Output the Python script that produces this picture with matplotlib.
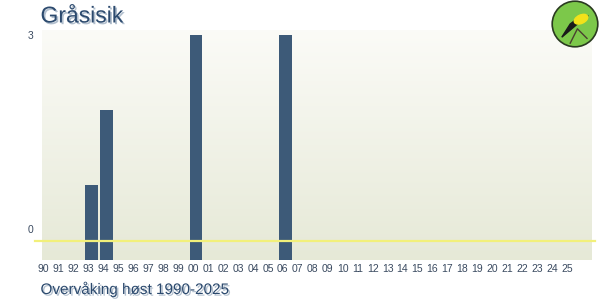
import numpy as np
import matplotlib.pyplot as plt
import matplotlib.patheffects as pe
from matplotlib.patches import Circle, Ellipse, Polygon

# years 1990-2025, counts per autumn season
years = [f"{y % 100:02d}" for y in range(1990, 2026)]
counts = [0, 0, 0, 1, 2, 0, 0, 0, 0, 0,
          3, 0, 0, 0, 0, 0, 3, 0, 0, 0,
          0, 0, 0, 0, 0, 0, 0, 0, 0, 0,
          0, 0, 0, 0, 0, 0]
title = "Gråsisik"
footer = "Overvåking høst 1990-2025"

BAR = "#3d5a78"
TXT = "#2c4a6e"
FONT = ["Liberation Sans", "DejaVu Sans"]

fig = plt.figure(figsize=(6, 3), dpi=100)
fig.patch.set_facecolor("white")
ax = fig.add_axes([42 / 600, 40 / 300, 549 / 600, 230 / 300])

x = np.arange(len(years))
xlim = (-0.30, 36.4)
ylim = (0, 3.067)

# vertical gradient background
grad = np.linspace(0, 1, 100).reshape(-1, 1)
top = np.array([0.984, 0.984, 0.969])
bot = np.array([0.902, 0.914, 0.843])
img = top + (bot - top) * grad[:, :, None]
ax.imshow(img, extent=[xlim[0], xlim[1], ylim[0], ylim[1]],
          aspect="auto", origin="upper", zorder=0)

ax.bar(x, counts, width=0.85, color=BAR, zorder=2)

ax.set_xlim(*xlim)
ax.set_ylim(*ylim)
for s in ax.spines.values():
    s.set_visible(False)
ax.tick_params(length=0)

ax.set_xticks(x - 0.2)
ax.set_xticklabels(years, fontsize=7.5, color="#3a4a60", family=FONT)
ax.tick_params(axis="x", pad=3)
ax.set_yticks([0.41, 3.0])
ax.set_yticklabels(["0", "3"], fontsize=7.5, color="#3a4a60", family=FONT)
ax.tick_params(axis="y", pad=6)

# yellow baseline that runs a little past the plot area
ax.plot([-0.8, 36.65], [0.253, 0.253], color="#f2f07a", lw=1.6,
        clip_on=False, zorder=3)

# title and footer with a light shadow
shadow = [pe.withSimplePatchShadow(offset=(1.2, -1.2), shadow_rgbFace="#9fb0c2",
                                   alpha=0.8)]
for txt, y, size in [(title, 0.925, 16.5), (footer, 0.02, 11)]:
    fig.text(40.5 / 600, y, txt, fontsize=size, color=TXT,
             family=FONT, va="baseline", path_effects=shadow)

# logo
lax = fig.add_axes([551 / 600, 252 / 300, 48 / 600, 48 / 300])
lax.set_xlim(-1, 1)
lax.set_ylim(-1, 1)
lax.set_aspect("equal")
lax.axis("off")
lax.add_patch(Circle((0, 0), 0.95, facecolor="#7cc84a", edgecolor="#2a3a20", lw=1.2))
lax.add_patch(Polygon([[-0.55, -0.55], [0.1, 0.0], [0.55, 0.35], [0.2, 0.3],
                       [-0.2, 0.0]], closed=True, color="#1a1a1a"))
lax.add_patch(Ellipse((0.25, 0.2), 0.6, 0.35, angle=25, color="#f2e21a"))
lax.plot([-0.2, 0.1, 0.5], [-0.8, -0.2, -0.6], color="#4a4030", lw=1)

fig.savefig("out.png", dpi=100)
